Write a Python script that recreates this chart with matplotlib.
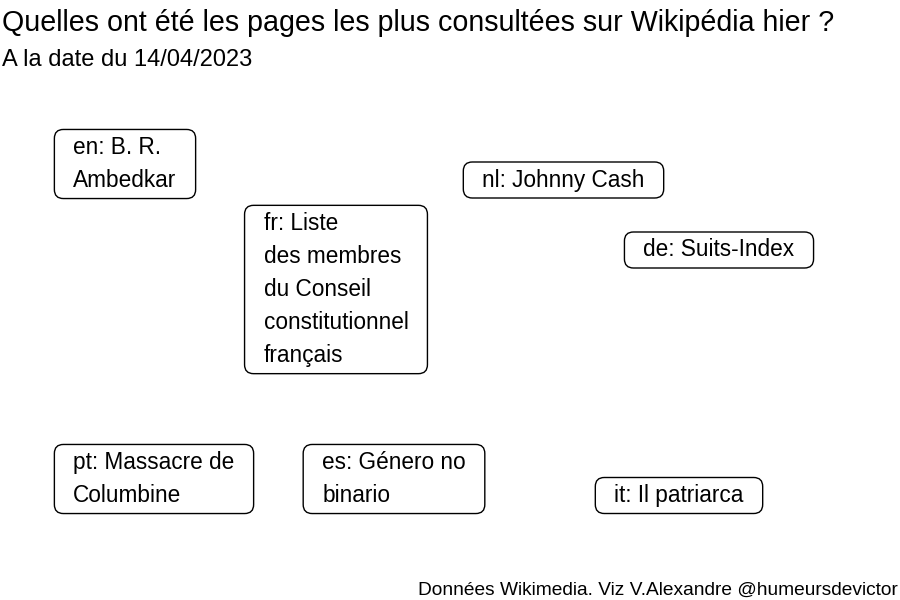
import matplotlib.pyplot as plt
from matplotlib.patches import FancyBboxPatch
from matplotlib.transforms import IdentityTransform

plt.rcParams['font.family'] = ['Liberation Sans', 'DejaVu Sans']

# most viewed pages per language, 14/04/2023
labels = [
    "en: B. R.\nAmbedkar",
    "fr: Liste\ndes membres\ndu Conseil\nconstitutionnel\nfrançais",
    "nl: Johnny Cash",
    "de: Suits-Index",
    "pt: Massacre de\nColumbine",
    "es: Género no\nbinario",
    "it: Il patriarca",
]
x_pos = [1.25, 3.36, 5.635, 7.19, 1.54, 3.94, 6.79]
y_pos = [4.36, 3.105, 4.20, 3.50, 1.21, 1.21, 1.045]

fig = plt.figure(figsize=(9, 6), dpi=100)
ax = fig.add_axes([0, 0, 1, 1])
ax.set_xlim(0, 9)
ax.set_ylim(0, 6)
ax.axis('off')

texts = []
for lab, x, y in zip(labels, x_pos, y_pos):
    t = ax.text(x, y, lab, ha='center', va='center', multialignment='left',
                fontsize=16.3, linespacing=1.56, zorder=3)
    texts.append(t)

fig.text(0.002, 0.948, "Quelles ont été les pages les plus consultées sur Wikipédia hier ?",
         fontsize=20.6, ha='left', va='baseline')
fig.text(0.002, 0.89, "A la date du 14/04/2023", fontsize=17, ha='left', va='baseline')
fig.text(0.998, 0.008, "Données Wikimedia. Viz V.Alexandre @humeursdevictor",
         fontsize=13.8, ha='right', va='baseline')

# rounded label boxes sized on the rendered text
fig.canvas.draw()
renderer = fig.canvas.get_renderer()
pad_x, pad_y = 19, 6.5
for t in texts:
    bb = t.get_window_extent(renderer)
    box = FancyBboxPatch((bb.x0 - pad_x, bb.y0 - pad_y), bb.width + 2 * pad_x, bb.height + 2 * pad_y,
                         boxstyle="round,pad=0,rounding_size=9", transform=IdentityTransform(),
                         facecolor='white', edgecolor='black', linewidth=1, zorder=2)
    ax.add_artist(box)

fig.savefig('out.png', dpi=100)
